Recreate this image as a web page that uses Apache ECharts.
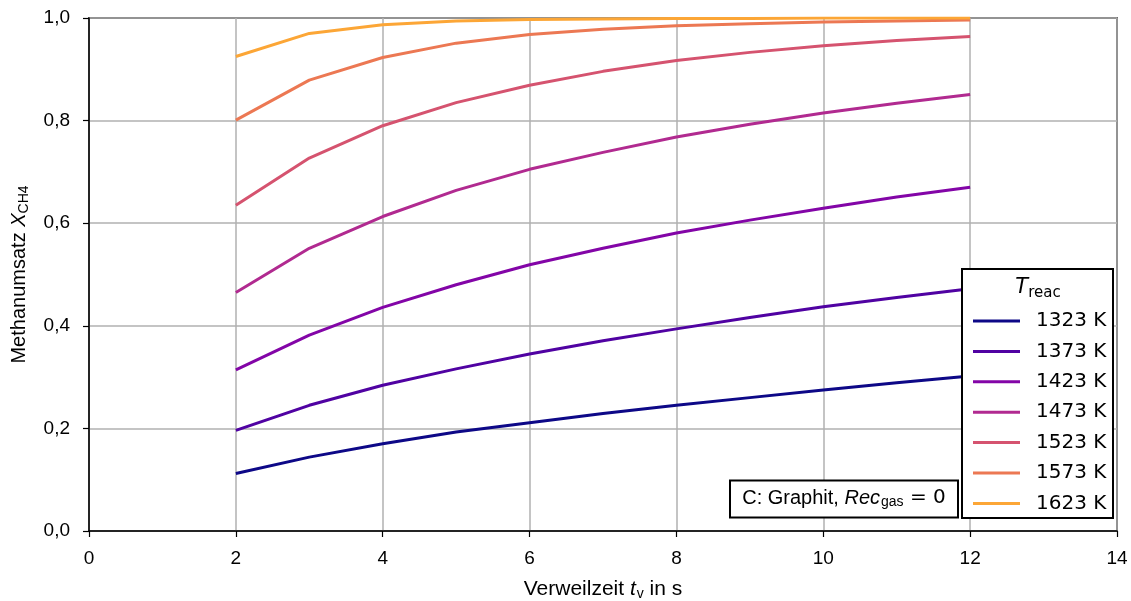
<!DOCTYPE html>
<html>
<head>
<meta charset="utf-8">
<script src="https://cdn.jsdelivr.net/npm/echarts@6/dist/echarts.min.js"></script>
<style>
  html, body { margin: 0; padding: 0; background: #fff; }
  #chart { width: 1131px; height: 601px; }
</style>
</head>
<body>
<div id="chart"></div>
<script>
// Residence time in s
const residenceTimes = [2, 3, 4, 5, 6, 7, 8, 9, 10, 11, 12];

// Methane conversion X_CH4 per reactor temperature
const temperatures = ['1323 K', '1373 K', '1423 K', '1473 K', '1523 K', '1573 K', '1623 K'];
const conv1323 = [0.112, 0.144, 0.170, 0.193, 0.211, 0.229, 0.245, 0.260, 0.275, 0.289, 0.302];
const conv1373 = [0.196, 0.245, 0.284, 0.316, 0.345, 0.371, 0.394, 0.416, 0.437, 0.455, 0.472];
const conv1423 = [0.314, 0.382, 0.436, 0.480, 0.519, 0.551, 0.581, 0.606, 0.629, 0.651, 0.670];
const conv1473 = [0.465, 0.551, 0.613, 0.664, 0.705, 0.738, 0.768, 0.793, 0.815, 0.834, 0.851];
const conv1523 = [0.635, 0.727, 0.790, 0.835, 0.869, 0.896, 0.917, 0.933, 0.946, 0.956, 0.964];
const conv1573 = [0.801, 0.879, 0.923, 0.951, 0.968, 0.978, 0.985, 0.989, 0.992, 0.994, 0.996];
const conv1623 = [0.925, 0.970, 0.987, 0.994, 0.997, 0.998, 0.999, 0.999, 1.000, 1.000, 1.000];
const conversions = [conv1323, conv1373, conv1423, conv1473, conv1523, conv1573, conv1623];

// Axis ticks
const xTicks = { min: 0, max: 14, interval: 2 };
const yTicks = { min: 0, max: 1, interval: 0.2 };

const colors = ['#0d0887', '#5002a2', '#8305a7', '#b12a90', '#d5536f', '#ec7853', '#fca636'];

const SANS = '"Liberation Sans", Arial, sans-serif';
const DEJAVU = '"DejaVu Sans", sans-serif';

const series = temperatures.map((name, k) => ({
  name: name,
  type: 'line',
  data: residenceTimes.map((t, i) => [t, conversions[k][i]]),
  showSymbol: false,
  symbol: 'none',
  lineStyle: { color: colors[k], width: 3 },
  itemStyle: { color: colors[k] },
  z: 3
}));

const chart = echarts.init(document.getElementById('chart'), null, { renderer: 'canvas' });

chart.setOption({
  animation: false,
  backgroundColor: '#fff',
  color: colors,
  grid: {
    left: 89, right: 14, top: 18, bottom: 70,
    containLabel: false,
    outerBoundsMode: 'none',
    show: true, borderColor: '#000', borderWidth: 1.5, backgroundColor: 'transparent'
  },
  xAxis: {
    type: 'value',
    min: xTicks.min, max: xTicks.max, interval: xTicks.interval,
    axisLine: { show: true, onZero: false, lineStyle: { color: '#000', width: 1.5 } },
    axisTick: { show: true, length: 6, lineStyle: { color: '#000', width: 1.2 } },
    axisLabel: { color: '#000', fontFamily: SANS, fontSize: 19, margin: 18 },
    splitLine: { show: true, lineStyle: { color: '#b0b0b0', width: 1.5 } },
    name: '{n|Verweilzeit }{i|t}{s|v}{n| in s}',
    nameLocation: 'middle',
    nameGap: 46,
    nameTextStyle: {
      rich: {
        n: { fontFamily: SANS, fontSize: 21, color: '#000' },
        i: { fontFamily: SANS, fontSize: 21, fontStyle: 'italic', color: '#000' },
        s: { fontFamily: SANS, fontSize: 14, color: '#000', padding: [10, 0, 0, 1] }
      }
    }
  },
  yAxis: {
    type: 'value',
    min: yTicks.min, max: yTicks.max, interval: yTicks.interval,
    axisLine: { show: true, onZero: false, lineStyle: { color: '#000', width: 1.5 } },
    axisTick: { show: true, length: 6, lineStyle: { color: '#000', width: 1.2 } },
    axisLabel: {
      color: '#000', fontFamily: SANS, fontSize: 19, margin: 19,
      formatter: v => v.toFixed(1).replace('.', ',')
    },
    splitLine: { show: true, lineStyle: { color: '#b0b0b0', width: 1.5 } },
    name: '{n|Methanumsatz }{i|X}{s|CH4}',
    nameLocation: 'middle',
    nameRotate: 90,
    nameGap: 58,
    nameTextStyle: {
      rich: {
        n: { fontFamily: SANS, fontSize: 20, color: '#000' },
        i: { fontFamily: SANS, fontSize: 20, fontStyle: 'italic', color: '#000' },
        s: { fontFamily: SANS, fontSize: 14, color: '#000', padding: [10, 0, 0, 0] }
      }
    }
  },
  legend: {
    orient: 'vertical',
    left: 968,
    top: 306,
    itemWidth: 47,
    itemHeight: 3,
    itemGap: 10.4,
    icon: 'rect',
    z: 30,
    selectedMode: false,
    data: temperatures,
    textStyle: {
      fontFamily: DEJAVU, fontSize: 20, color: '#000', lineHeight: 20,
      padding: [0, 0, 0, 11]
    }
  },
  graphic: [
    {
      type: 'rect', z: 20,
      shape: { x: 962, y: 269, width: 151, height: 249 },
      style: { fill: '#fff', stroke: '#000', lineWidth: 2 }
    },
    {
      type: 'text', z: 21,
      x: 1038, y: 288,
      style: {
        text: '{i|T}{s|reac}',
        align: 'center', verticalAlign: 'middle',
        rich: {
          i: { fontFamily: DEJAVU, fontSize: 21, fontStyle: 'italic', fill: '#000' },
          s: { fontFamily: DEJAVU, fontSize: 15, fill: '#000', padding: [10, 0, 0, 0] }
        }
      }
    },
    {
      type: 'rect', z: 20,
      shape: { x: 730, y: 480.5, width: 228, height: 37 },
      style: { fill: '#fff', stroke: '#000', lineWidth: 2 }
    },
    {
      type: 'text', z: 21,
      x: 844, y: 498,
      style: {
        text: '{n|C: Graphit, }{i|Rec}{s|gas}{m| = 0}',
        align: 'center', verticalAlign: 'middle',
        rich: {
          n: { fontFamily: SANS, fontSize: 20, fill: '#000' },
          i: { fontFamily: SANS, fontSize: 20, fontStyle: 'italic', fill: '#000' },
          s: { fontFamily: SANS, fontSize: 14, fill: '#000', padding: [9, 0, 0, 1] },
          m: { fontFamily: DEJAVU, fontSize: 20, fill: '#000' }
        }
      }
    }
  ],
  series: series
});
</script>
</body>
</html>
